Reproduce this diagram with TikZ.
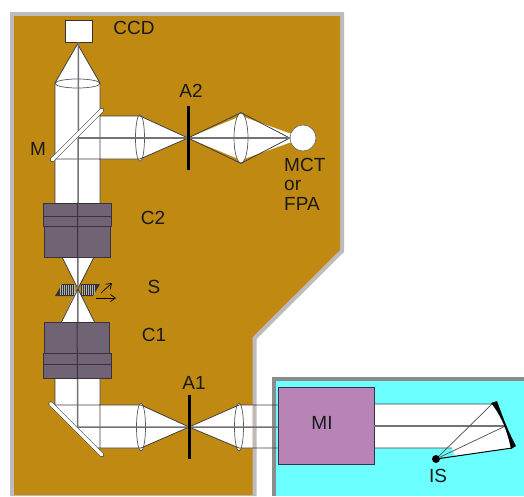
\documentclass[tikz,border=0pt]{standalone}
\usepackage{fontspec}
\setmainfont{Liberation Sans}
\usetikzlibrary{shapes.geometric, arrows.meta}
\definecolor{benchgold}{HTML}{C08A12}
\definecolor{benchedge}{HTML}{BDBAC0}
\definecolor{boxcyan}{HTML}{6CFFFF}
\definecolor{boxedge}{HTML}{8C8C8C}
\definecolor{objgray}{HTML}{6F6374}
\definecolor{objline}{HTML}{3A3242}
\definecolor{mipurple}{HTML}{B884B8}
\tikzset{beam/.style={fill=white, draw=none},
         ray/.style={draw=black!75, line width=0.8pt},
         axis/.style={draw=black!55, line width=1.5pt},
         lens/.style={ellipse, draw=black!65, fill=white, line width=0.7pt, inner sep=0pt},
         mirror/.style={draw=black!70, line width=0.6pt, double=white, double distance=3.2pt, line cap=round},
         slit/.style={draw=black, line width=3pt},
         objective/.style={rectangle, draw=objline, fill=objgray, line width=0.8pt, inner sep=0pt},
         stage/.style={-{Straight Barb[length=5pt, width=7pt]}, line width=0.7pt},
         label/.style={font=\fontsize{19}{21}\selectfont, text=black!90, inner sep=0pt}}

\begin{document}
\begin{tikzpicture}[x=1pt, y=-1pt]
      \useasboundingbox (0, 0) rectangle (524, 496);
      % bench and box
      \fill[benchedge] (10, 12) -- (344, 12) -- (344, 252) -- (256.5, 339) -- (256.5, 496) -- (10, 496) -- cycle;
      \fill[benchgold] (14, 16) -- (340, 16) -- (340, 250) -- (252.5, 337) -- (252.5, 495) -- (14, 495) -- cycle;
      \fill[boxedge] (272, 377) rectangle (524, 496);
      \fill[boxcyan] (276, 381) rectangle (524, 496);

      \coordinate (ct) at (77.5, 44);
      \coordinate (cl) at (55, 83);
      \coordinate (cr) at (100, 83);
      \coordinate (ml) at (55, 159);
      \coordinate (mr) at (100, 116);
      \coordinate (f2) at (188, 138);
      \coordinate (f1) at (189, 427);
      \coordinate (wa) at (77.5, 288);
      \coordinate (ul) at (62, 257);
      \coordinate (ur) at (94, 257);
      \coordinate (ll) at (61, 323);
      \coordinate (lr) at (95, 323);
      \coordinate (bl) at (55, 405);
      \coordinate (bm) at (55, 408);
      \coordinate (br) at (95, 448);
      \coordinate (bt) at (100, 448);
      \coordinate (mt) at (492, 404);
      \coordinate (mm) at (505.5, 426);
      \coordinate (mb) at (512, 448);

      % white light path
      \fill[beam] (ct) -- (cl) -- (55, 203) -- (100, 203) -- (cr) -- cycle;
      \fill[beam] (100, 116) -- (140, 116) -- (f2) -- (140, 159) -- (ml) -- cycle;
      \fill[beam] (f2) -- (241, 116) -- (303, 138) -- (241, 160) -- cycle;
      \fill[beam] (ul) -- (wa) -- (ur) -- cycle;
      \fill[beam] (ll) -- (wa) -- (lr) -- cycle;
      \fill[beam] (55, 378) -- (100, 378) -- (100, 405) -- (140, 405) -- (f1) -- (140, 448) -- (br) -- (bm) -- cycle;
      \fill[beam] (f1) -- (239, 405) -- (252.5, 405) -- (252.5, 448) -- (239, 448) -- cycle;
      \fill[beam] (374, 404) -- (mt) -- (mm) -- (mb) -- (455, 456) -- (452, 448) -- (374, 448) -- cycle;

      \node[lens, minimum width=45pt, minimum height=9pt] (l0) at (77.5, 83.5) {};
      \node[lens, minimum width=9pt, minimum height=47pt] (l1) at (140, 138) {};
      \node[lens, minimum width=14pt, minimum height=50pt] (l2) at (241, 138) {};
      \node[lens, minimum width=9pt, minimum height=48pt] (l3) at (141, 427) {};
      \node[lens, minimum width=9pt, minimum height=48pt] (l4) at (239, 427) {};

      \node[draw=black!80, fill=white, line width=0.8pt, minimum width=27pt, minimum height=22pt, inner sep=0pt] (ccd) at (78.5, 31) {};
      \node[circle, draw=black!60, fill=white, line width=0.6pt, minimum size=26pt, inner sep=0pt] (mct) at (303, 138) {};
      \node[draw=objline, fill=mipurple, line width=0.8pt, minimum width=96pt, minimum height=77pt, inner sep=0pt] (mi) at (326, 426) {};

      % beam edges
      \draw[ray] (ct) -- (cl) -- (55, 203)
        (ct) -- (cr) -- (100, 203)
        (mr) -- (l1.north |- mr) -- (f2) -- (l1.south |- ml) -- (ml)
        (f2) -- (l2.north) -- (mct.west) -- (l2.south) -- (f2)
        (ul) -- (lr)
        (ur) -- (ll)
        (55, 378) -- (bl) -- (l3.north |- bl) -- (f1) -- (l3.south |- bt) -- (br)
        (100, 378) -- (bt)
        (f1) -- (l4.north |- bl) -- (mi.west |- bl)
        (f1) -- (l4.south |- bt) -- (mi.west |- bt)
        (mi.east |- mt) -- (mt)
        (mi.east |- mb) -- (452, 448);

      % optical axis
      \draw[axis] (ccd.south) -- (77.5, 427) -- (mi.west |- f1);
      \draw[axis] (77.5, 138) -- (mct.west);
      \draw[axis] (mi.east |- mm) -- (mm);

      \draw[mirror] (52, 160) -- (102, 110);
      \draw[mirror] (50.5, 403.5) -- (102, 455);
      \draw[slit] (188, 106) -- (188, 170);
      \draw[slit] (189, 395) -- (189, 459);

      % objectives
      \node[objective, minimum width=66pt, minimum height=31pt] (c2low) at (77.5, 241.5) {};
      \node[objective, minimum width=68pt, minimum height=23pt] (c2up) at (77.5, 214.5) {};
      \draw[draw=objline, line width=0.8pt] (c2up.west |- 0, 216) -- (c2up.east |- 0, 216);
      \node[objective, minimum width=64.5pt, minimum height=31pt] (c1up) at (77, 338) {};
      \node[objective, minimum width=68pt, minimum height=25pt] (c1low) at (77.5, 366) {};
      \draw[draw=objline, line width=0.8pt] (c1low.west |- 0, 364) -- (c1low.east |- 0, 364);
      \draw[draw=objline, line width=1pt] (c2up.north) -- (c2low.south)
        (c1up.north) -- (c1low.south);

      % sample with its stage arrows
      \fill[black!80] (55, 296) -- (62, 284) -- (74, 284) -- (74, 296) -- cycle;
      \fill[black!80] (81, 284) -- (100, 284) -- (93, 296) -- (81, 296) -- cycle;
      \foreach \xx in {60, 62, ..., 74, 82, 84, ..., 94}
        \draw[black!30, line width=0.3pt] (\xx, 285) -- (\xx, 295);
      \fill[black!75] (77.5, 290) circle (1.5pt);
      \draw[stage] (96, 298) -- (116, 298);
      \draw[stage] (101, 293) -- (112, 283);

      % focusing mirror and source
      \node[circle, fill=black, minimum size=8pt, inner sep=0pt] (is) at (436, 459) {};
      \draw[draw=black!70, line width=0.7pt] (is) -- (mt)
        (is) -- (mm);
      \draw[draw=black, line width=1pt] (is) -- (mb);
      \fill[black] (491, 403) -- (497, 401) .. controls (503, 418) and (509, 433) .. (516, 446)
        -- (511, 449) .. controls (508, 434) and (502, 416) .. cycle;

      \node[label] (lbccd) at (134, 28) {CCD};
      \node[label] (lba2) at (191, 91) {A2};
      \node[label] (lbm) at (38, 149) {M};
      \node[label, anchor=west] (lbmct) at (284, 165) {MCT};
      \node[label, anchor=west] (lbor) at (284, 185) {or};
      \node[label, anchor=west] (lbfpa) at (284, 204) {FPA};
      \node[label] (lbc2) at (153, 218) {C2};
      \node[label] (lbs) at (154, 287) {S};
      \node[label] (lbc1) at (154, 335) {C1};
      \node[label] (lba1) at (194, 383) {A1};
      \node[label] (lbmi) at (322, 423) {MI};
      \node[label] (lbis) at (438, 476) {IS};
    \end{tikzpicture}
\end{document}
